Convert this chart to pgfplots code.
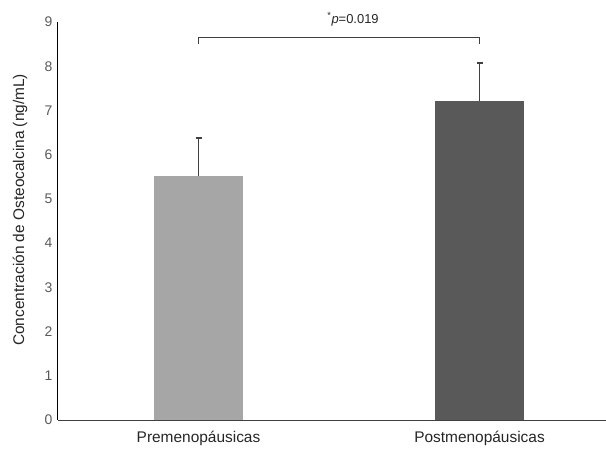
\documentclass[border=0pt]{standalone}
\usepackage{pgfplots}
\pgfplotsset{compat=1.18}
\usepackage{fontspec}
\setmainfont{Liberation Sans}

\definecolor{barlight}{HTML}{A6A6A6}
\definecolor{bardark}{HTML}{595959}
\definecolor{errcol}{HTML}{404040}
\definecolor{tickgray}{HTML}{595959}

\begin{document}
\begin{tikzpicture}
\useasboundingbox (-58bp,-32bp) rectangle (548bp,420bp);
\begin{axis}[
    scale only axis,
    width=548bp, height=398bp,
    xmin=-0.5, xmax=1.45,
    ymin=0, ymax=9,
    ytick={0,1,...,9},
    xtick={0,1},
    xticklabels={Premenopáusicas,Postmenopáusicas},
    axis x line=bottom, axis y line=left,
    axis line style={-, line width=1bp},
    x axis line style={draw=black!75},
    y axis line style={draw=black},
    major tick length=0pt,
    /pgf/number format/assume math mode=true,
    yticklabel style={font=\fontsize{14}{16}\selectfont, text=tickgray, xshift=-2bp},
    xticklabel style={font=\fontsize{15.5}{18}\selectfont, text=black!85, yshift=-8bp},
    ylabel={Concentración de Osteocalcina (ng/mL)},
    every axis y label/.style={at={(axis description cs:-0.0693,0.528)}, rotate=90, anchor=center,
        font=\fontsize{15.5}{18}\selectfont, text=black!85},
    clip=false,
    ybar, bar width=0.317,
]
\addplot[ybar, bar shift=0pt, fill=barlight, draw=none,
    error bars/.cd, y dir=plus, y explicit,
    error bar style={errcol, line width=1.5bp},
    error mark options={rotate=90, mark size=3bp, errcol, line width=1.5bp}]
  coordinates {(0,5.52) +- (0,0.86)};
\addplot[ybar, bar shift=0pt, fill=bardark, draw=none,
    error bars/.cd, y dir=plus, y explicit,
    error bar style={errcol, line width=1.5bp},
    error mark options={rotate=90, mark size=3bp, errcol, line width=1.5bp}]
  coordinates {(1,7.22) +- (0,0.85)};
\addplot[sharp plot, mark=none, draw=errcol, line width=1bp]
  coordinates {(0,8.51) (0,8.66) (1,8.66) (1,8.51)};
\node[font=\fontsize{13}{15}\selectfont, text=black!85] at (axis cs:0.55,9.06) {\textsuperscript{*}\textit{p}=0.019};
\end{axis}
\end{tikzpicture}
\end{document}
